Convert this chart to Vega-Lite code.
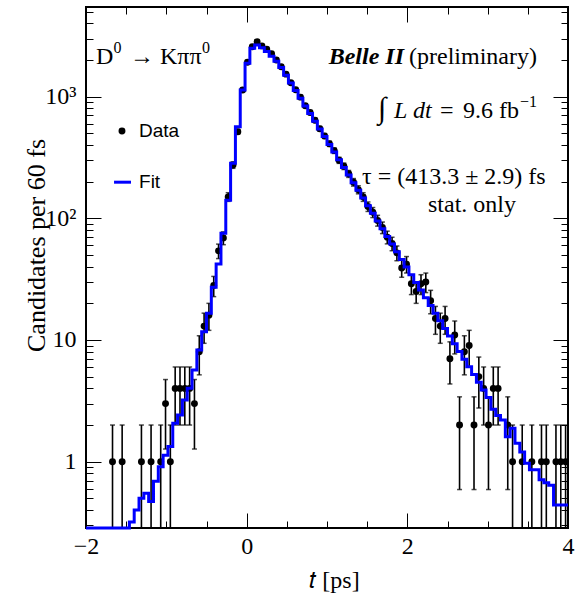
{
  "$schema": "https://vega.github.io/schema/vega-lite/v6.json",
  "width": 482,
  "height": 521,
  "autosize": {"type": "none"},
  "padding": {"left": 86, "top": 7, "right": 9, "bottom": 67},
  "background": "white",
  "config": {
    "view": {"stroke": "black", "strokeWidth": 2},
    "axis": {
      "domain": false, "grid": false, "tickColor": "black", "tickWidth": 1, "labelFlush": false,
      "labelFont": "Liberation Serif", "labelFontSize": 24, "labelColor": "black",
      "titleFont": "Liberation Serif", "titleFontSize": 24, "titleFontWeight": "normal", "titleColor": "black"
    },
    "text": {"font": "Liberation Serif", "fontSize": 24, "color": "black"}
  },
  "datasets": {
    "counts": [
      {"t": -1.67, "n": 1, "lo": 0, "hi": 2},
      {"t": -1.55, "n": 1, "lo": 0, "hi": 2},
      {"t": -1.31, "n": 1, "lo": 0, "hi": 2},
      {"t": -1.19, "n": 1, "lo": 0, "hi": 2},
      {"t": -1.07, "n": 1, "lo": 0, "hi": 2},
      {"t": -1.01, "n": 3, "lo": 1.27, "hi": 4.73},
      {"t": -0.95, "n": 1, "lo": 0, "hi": 2},
      {"t": -0.89, "n": 4, "lo": 2, "hi": 6},
      {"t": -0.83, "n": 4, "lo": 2, "hi": 6},
      {"t": -0.77, "n": 4, "lo": 2, "hi": 6},
      {"t": -0.71, "n": 4, "lo": 2, "hi": 6},
      {"t": -0.65, "n": 3, "lo": 1.27, "hi": 4.73},
      {"t": -0.59, "n": 8, "lo": 5.17, "hi": 10.83},
      {"t": -0.53, "n": 13, "lo": 9.39, "hi": 16.61},
      {"t": -0.47, "n": 16, "lo": 12, "hi": 20},
      {"t": -0.41, "n": 28, "lo": 22.71, "hi": 33.29},
      {"t": -0.35, "n": 54, "lo": 46.65, "hi": 61.35},
      {"t": -0.29, "n": 69, "lo": 60.69, "hi": 77.31},
      {"t": -0.23, "n": 150, "lo": 137.75, "hi": 162.25},
      {"t": -0.17, "n": 274, "lo": 257.45, "hi": 290.55},
      {"t": -0.11, "n": 515, "lo": 492.31, "hi": 537.69},
      {"t": -0.05, "n": 1133, "lo": 1099.34, "hi": 1166.66},
      {"t": 0.01, "n": 1914, "lo": 1870.25, "hi": 1957.75},
      {"t": 0.07, "n": 2570, "lo": 2519.3, "hi": 2620.7},
      {"t": 0.13, "n": 2826, "lo": 2772.84, "hi": 2879.16},
      {"t": 0.19, "n": 2610, "lo": 2558.91, "hi": 2661.09},
      {"t": 0.25, "n": 2448, "lo": 2398.52, "hi": 2497.48},
      {"t": 0.31, "n": 2250, "lo": 2202.57, "hi": 2297.43},
      {"t": 0.37, "n": 2000, "lo": 1955.28, "hi": 2044.72},
      {"t": 0.43, "n": 1760, "lo": 1718.05, "hi": 1801.95},
      {"t": 0.49, "n": 1530, "lo": 1490.89, "hi": 1569.11},
      {"t": 0.55, "n": 1300, "lo": 1263.94, "hi": 1336.06},
      {"t": 0.61, "n": 1140, "lo": 1106.24, "hi": 1173.76},
      {"t": 0.67, "n": 990, "lo": 958.54, "hi": 1021.46},
      {"t": 0.73, "n": 840, "lo": 811.02, "hi": 868.98},
      {"t": 0.79, "n": 740, "lo": 712.8, "hi": 767.2},
      {"t": 0.85, "n": 640, "lo": 614.7, "hi": 665.3},
      {"t": 0.91, "n": 545, "lo": 521.65, "hi": 568.35},
      {"t": 0.97, "n": 475, "lo": 453.21, "hi": 496.79},
      {"t": 1.03, "n": 410, "lo": 389.75, "hi": 430.25},
      {"t": 1.09, "n": 360, "lo": 341.03, "hi": 378.97},
      {"t": 1.15, "n": 300, "lo": 282.68, "hi": 317.32},
      {"t": 1.21, "n": 268, "lo": 251.63, "hi": 284.37},
      {"t": 1.27, "n": 232, "lo": 216.77, "hi": 247.23},
      {"t": 1.33, "n": 198, "lo": 183.93, "hi": 212.07},
      {"t": 1.39, "n": 172, "lo": 158.89, "hi": 185.11},
      {"t": 1.45, "n": 150, "lo": 137.75, "hi": 162.25},
      {"t": 1.51, "n": 125, "lo": 113.82, "hi": 136.18},
      {"t": 1.57, "n": 112, "lo": 101.42, "hi": 122.58},
      {"t": 1.63, "n": 96, "lo": 86.2, "hi": 105.8},
      {"t": 1.69, "n": 84, "lo": 74.84, "hi": 93.17},
      {"t": 1.75, "n": 70, "lo": 61.63, "hi": 78.37},
      {"t": 1.81, "n": 62, "lo": 54.13, "hi": 69.87},
      {"t": 1.87, "n": 52, "lo": 44.79, "hi": 59.21},
      {"t": 1.93, "n": 39, "lo": 32.76, "hi": 45.24},
      {"t": 1.99, "n": 42, "lo": 35.52, "hi": 48.48},
      {"t": 2.05, "n": 29, "lo": 23.61, "hi": 34.39},
      {"t": 2.11, "n": 25, "lo": 20, "hi": 30},
      {"t": 2.17, "n": 29, "lo": 23.61, "hi": 34.39},
      {"t": 2.23, "n": 30, "lo": 24.52, "hi": 35.48},
      {"t": 2.29, "n": 21, "lo": 16.42, "hi": 25.58},
      {"t": 2.35, "n": 15, "lo": 11.13, "hi": 18.87},
      {"t": 2.41, "n": 13, "lo": 9.39, "hi": 16.61},
      {"t": 2.47, "n": 15, "lo": 11.13, "hi": 18.87},
      {"t": 2.53, "n": 7, "lo": 4.35, "hi": 9.65},
      {"t": 2.59, "n": 11, "lo": 7.68, "hi": 14.32},
      {"t": 2.65, "n": 2, "lo": 0.59, "hi": 3.41},
      {"t": 2.71, "n": 8, "lo": 5.17, "hi": 10.83},
      {"t": 2.77, "n": 9, "lo": 6, "hi": 12},
      {"t": 2.83, "n": 2, "lo": 0.59, "hi": 3.41},
      {"t": 2.89, "n": 5, "lo": 2.76, "hi": 7.24},
      {"t": 2.95, "n": 4, "lo": 2, "hi": 6},
      {"t": 3.01, "n": 2, "lo": 0.59, "hi": 3.41},
      {"t": 3.07, "n": 4, "lo": 2, "hi": 6},
      {"t": 3.13, "n": 4, "lo": 2, "hi": 6},
      {"t": 3.25, "n": 2, "lo": 0.59, "hi": 3.41},
      {"t": 3.31, "n": 1, "lo": 0, "hi": 2},
      {"t": 3.43, "n": 1, "lo": 0, "hi": 2},
      {"t": 3.55, "n": 1, "lo": 0, "hi": 2},
      {"t": 3.67, "n": 1, "lo": 0, "hi": 2},
      {"t": 3.73, "n": 1, "lo": 0, "hi": 2},
      {"t": 3.85, "n": 1, "lo": 0, "hi": 2},
      {"t": 3.91, "n": 1, "lo": 0, "hi": 2},
      {"t": 3.97, "n": 1, "lo": 0, "hi": 2}
    ],
    "fit": [
      {"e": -2.0, "f": 0.045}, {"e": -1.94, "f": 0.055}, {"e": -1.88, "f": 0.065}, {"e": -1.82, "f": 0.08},
      {"e": -1.76, "f": 0.1}, {"e": -1.7, "f": 0.12}, {"e": -1.64, "f": 0.15}, {"e": -1.58, "f": 0.19},
      {"e": -1.52, "f": 0.24}, {"e": -1.46, "f": 0.32}, {"e": -1.4, "f": 0.4}, {"e": -1.34, "f": 0.5},
      {"e": -1.28, "f": 0.55}, {"e": -1.22, "f": 0.47}, {"e": -1.16, "f": 0.69}, {"e": -1.1, "f": 0.91},
      {"e": -1.04, "f": 1.13}, {"e": -0.98, "f": 1.33}, {"e": -0.92, "f": 2.07}, {"e": -0.86, "f": 2.42},
      {"e": -0.8, "f": 3.21}, {"e": -0.74, "f": 4.01}, {"e": -0.68, "f": 5.67}, {"e": -0.62, "f": 8.28},
      {"e": -0.56, "f": 11.7}, {"e": -0.5, "f": 16.6}, {"e": -0.44, "f": 27.1}, {"e": -0.38, "f": 42.1},
      {"e": -0.32, "f": 75.3}, {"e": -0.26, "f": 141}, {"e": -0.2, "f": 283}, {"e": -0.14, "f": 566},
      {"e": -0.08, "f": 1133}, {"e": -0.02, "f": 1880}, {"e": 0.04, "f": 2500}, {"e": 0.1, "f": 2650},
      {"e": 0.16, "f": 2520}, {"e": 0.22, "f": 2350}, {"e": 0.28, "f": 2150}, {"e": 0.34, "f": 1950},
      {"e": 0.4, "f": 1731}, {"e": 0.46, "f": 1497}, {"e": 0.52, "f": 1295}, {"e": 0.58, "f": 1120},
      {"e": 0.64, "f": 969}, {"e": 0.7, "f": 838}, {"e": 0.76, "f": 725}, {"e": 0.82, "f": 627},
      {"e": 0.88, "f": 542}, {"e": 0.94, "f": 469}, {"e": 1.0, "f": 405}, {"e": 1.06, "f": 351},
      {"e": 1.12, "f": 303}, {"e": 1.18, "f": 262}, {"e": 1.24, "f": 227}, {"e": 1.3, "f": 196},
      {"e": 1.36, "f": 170}, {"e": 1.42, "f": 147}, {"e": 1.48, "f": 127}, {"e": 1.54, "f": 110},
      {"e": 1.6, "f": 94.9}, {"e": 1.66, "f": 82.1}, {"e": 1.72, "f": 71.0}, {"e": 1.78, "f": 61.4},
      {"e": 1.84, "f": 53.1}, {"e": 1.9, "f": 45.9}, {"e": 1.96, "f": 39.7}, {"e": 2.02, "f": 34.4},
      {"e": 2.08, "f": 29.7}, {"e": 2.14, "f": 25.7}, {"e": 2.2, "f": 22.2}, {"e": 2.26, "f": 19.2},
      {"e": 2.32, "f": 16.6}, {"e": 2.38, "f": 14.4}, {"e": 2.44, "f": 12.4}, {"e": 2.5, "f": 10.8},
      {"e": 2.56, "f": 9.3}, {"e": 2.62, "f": 8.04}, {"e": 2.68, "f": 6.96}, {"e": 2.74, "f": 6.02},
      {"e": 2.8, "f": 5.2}, {"e": 2.86, "f": 4.5}, {"e": 2.92, "f": 3.89}, {"e": 2.98, "f": 3.37},
      {"e": 3.04, "f": 2.7}, {"e": 3.1, "f": 2.4}, {"e": 3.16, "f": 2.2}, {"e": 3.22, "f": 1.6},
      {"e": 3.28, "f": 1.88}, {"e": 3.34, "f": 1.42}, {"e": 3.4, "f": 1.2}, {"e": 3.46, "f": 0.97},
      {"e": 3.52, "f": 0.86}, {"e": 3.58, "f": 0.86}, {"e": 3.64, "f": 0.71}, {"e": 3.7, "f": 0.67},
      {"e": 3.76, "f": 0.64}, {"e": 3.82, "f": 0.44}, {"e": 3.88, "f": 0.44}, {"e": 3.94, "f": 0.44},
      {"e": 4.0, "f": 0.44}
    ],
    "one": [{}]
  },
  "layer": [
    {
      "data": {"name": "counts"},
      "mark": {"type": "rule", "color": "black", "strokeWidth": 1.6, "clip": true, "invalid": "show"},
      "encoding": {
        "x": {
          "field": "t", "type": "quantitative",
          "scale": {"domain": [-2, 4], "nice": false, "zero": false},
          "axis": {"orient": "bottom", "values": [-2, 0, 2, 4], "tickSize": -15, "labelPadding": 21,
                   "title": "𝑡 [ps]", "titleX": 248, "titleY": 52, "titleBaseline": "middle"}
        },
        "y": {
          "field": "lo", "type": "quantitative",
          "scale": {"type": "log", "domain": [0.285, 5450], "nice": false, "clamp": true},
          "axis": {"orient": "left", "values": [1, 10, 100, 1000], "tickSize": -15, "labelPadding": 25,
                   "labelExpr": "datum.value == 1 ? '1' : datum.value == 10 ? '10' : datum.value == 100 ? '10²' : '10³'",
                   "title": "Candidates per 60 fs", "titleFontSize": 26, "titleX": -50, "titleY": 238, "titleBaseline": "middle"}
        },
        "y2": {"field": "hi"}
      }
    },
    {
      "data": {"name": "counts"},
      "mark": {"type": "tick", "orient": "horizontal", "color": "black", "size": 5, "thickness": 1.5},
      "encoding": {
        "x": {"field": "t", "type": "quantitative",
              "axis": {"orient": "bottom", "values": [-1.5, -1, -0.5, 0.5, 1, 1.5, 2.5, 3, 3.5], "tickSize": -7, "labels": false, "title": null}},
        "y": {"field": "hi", "type": "quantitative",
              "axis": {"orient": "left", "values": [0.3, 0.4, 0.5, 0.6, 0.7, 0.8, 0.9, 2, 3, 4, 5, 6, 7, 8, 9, 20, 30, 40, 50, 60, 70, 80, 90, 200, 300, 400, 500, 600, 700, 800, 900, 2000, 3000, 4000, 5000],
                       "tickSize": -7, "labels": false, "title": null}}
      }
    },
    {
      "data": {"name": "counts"},
      "transform": [{"filter": "datum.lo > 0"}],
      "mark": {"type": "tick", "orient": "horizontal", "color": "black", "size": 5, "thickness": 1.5},
      "encoding": {
        "x": {"field": "t", "type": "quantitative", "axis": null},
        "y": {"field": "lo", "type": "quantitative", "axis": null}
      }
    },
    {
      "data": {"name": "counts"},
      "mark": {"type": "circle", "color": "black", "size": 48, "opacity": 1},
      "encoding": {
        "x": {"field": "t", "type": "quantitative",
              "axis": {"orient": "top", "values": [-2, 0, 2, 4], "tickSize": -15, "labels": false, "title": null}},
        "y": {"field": "n", "type": "quantitative",
              "axis": {"orient": "right", "values": [1, 10, 100, 1000], "tickSize": -15, "labels": false, "title": null}}
      }
    },
    {
      "data": {"name": "fit"},
      "mark": {"type": "line", "interpolate": "step-after", "color": "#0000ff", "strokeWidth": 3},
      "encoding": {
        "x": {"field": "e", "type": "quantitative",
              "axis": {"orient": "top", "values": [-1.5, -1, -0.5, 0.5, 1, 1.5, 2.5, 3, 3.5], "tickSize": -7, "labels": false, "title": null}},
        "y": {"field": "f", "type": "quantitative",
              "axis": {"orient": "right", "values": [0.3, 0.4, 0.5, 0.6, 0.7, 0.8, 0.9, 2, 3, 4, 5, 6, 7, 8, 9, 20, 30, 40, 50, 60, 70, 80, 90, 200, 300, 400, 500, 600, 700, 800, 900, 2000, 3000, 4000, 5000],
                       "tickSize": -7, "labels": false, "title": null}}
      }
    },
    {
      "data": {"name": "one"},
      "mark": {"type": "text", "align": "left", "baseline": "alphabetic", "text": "D"},
      "encoding": {"x": {"datum": -1.876, "type": "quantitative", "axis": null}, "y": {"datum": 1853, "type": "quantitative", "axis": null}}
    },
    {
      "data": {"name": "one"},
      "mark": {"type": "text", "align": "left", "baseline": "alphabetic", "text": "0", "fontSize": 16, "dy": -11},
      "encoding": {"x": {"datum": -1.658, "type": "quantitative", "axis": null}, "y": {"datum": 1853, "type": "quantitative", "axis": null}}
    },
    {
      "data": {"name": "one"},
      "mark": {"type": "text", "align": "left", "baseline": "alphabetic", "text": "→"},
      "encoding": {"x": {"datum": -1.452, "type": "quantitative", "axis": null}, "y": {"datum": 1853, "type": "quantitative", "axis": null}}
    },
    {
      "data": {"name": "one"},
      "mark": {"type": "text", "align": "left", "baseline": "alphabetic", "text": "Kππ"},
      "encoding": {"x": {"datum": -1.079, "type": "quantitative", "axis": null}, "y": {"datum": 1853, "type": "quantitative", "axis": null}}
    },
    {
      "data": {"name": "one"},
      "mark": {"type": "text", "align": "left", "baseline": "alphabetic", "text": "0", "fontSize": 16, "dy": -11},
      "encoding": {"x": {"datum": -0.556, "type": "quantitative", "axis": null}, "y": {"datum": 1853, "type": "quantitative", "axis": null}}
    },
    {
      "data": {"name": "one"},
      "mark": {"type": "text", "align": "right", "baseline": "alphabetic", "text": "Belle II", "fontWeight": "bold", "fontStyle": "italic"},
      "encoding": {"x": {"datum": 1.959, "type": "quantitative", "axis": null}, "y": {"datum": 1853, "type": "quantitative", "axis": null}}
    },
    {
      "data": {"name": "one"},
      "mark": {"type": "text", "align": "right", "baseline": "alphabetic", "text": "(preliminary)"},
      "encoding": {"x": {"datum": 3.614, "type": "quantitative", "axis": null}, "y": {"datum": 1853, "type": "quantitative", "axis": null}}
    },
    {
      "data": {"name": "one"},
      "mark": {"type": "text", "align": "left", "baseline": "alphabetic", "text": "∫", "fontSize": 30},
      "encoding": {"x": {"datum": 1.635, "type": "quantitative", "axis": null}, "y": {"datum": 667, "type": "quantitative", "axis": null}}
    },
    {
      "data": {"name": "one"},
      "mark": {"type": "text", "align": "left", "baseline": "alphabetic", "text": "L dt", "fontStyle": "italic"},
      "encoding": {"x": {"datum": 1.834, "type": "quantitative", "axis": null}, "y": {"datum": 667, "type": "quantitative", "axis": null}}
    },
    {
      "data": {"name": "one"},
      "mark": {"type": "text", "align": "left", "baseline": "alphabetic", "text": "="},
      "encoding": {"x": {"datum": 2.407, "type": "quantitative", "axis": null}, "y": {"datum": 667, "type": "quantitative", "axis": null}}
    },
    {
      "data": {"name": "one"},
      "mark": {"type": "text", "align": "right", "baseline": "alphabetic", "text": "9.6 fb"},
      "encoding": {"x": {"datum": 3.39, "type": "quantitative", "axis": null}, "y": {"datum": 667, "type": "quantitative", "axis": null}}
    },
    {
      "data": {"name": "one"},
      "mark": {"type": "text", "align": "left", "baseline": "alphabetic", "text": "−1", "fontSize": 16, "dy": -11},
      "encoding": {"x": {"datum": 3.403, "type": "quantitative", "axis": null}, "y": {"datum": 667, "type": "quantitative", "axis": null}}
    },
    {
      "data": {"name": "one"},
      "mark": {"type": "text", "align": "left", "baseline": "alphabetic", "text": "τ = (413.3 ± 2.9) fs"},
      "encoding": {"x": {"datum": 1.436, "type": "quantitative", "axis": null}, "y": {"datum": 191, "type": "quantitative", "axis": null}}
    },
    {
      "data": {"name": "one"},
      "mark": {"type": "text", "align": "left", "baseline": "alphabetic", "text": "stat. only"},
      "encoding": {"x": {"datum": 2.257, "type": "quantitative", "axis": null}, "y": {"datum": 112.7, "type": "quantitative", "axis": null}}
    },
    {
      "data": {"name": "one"},
      "mark": {"type": "circle", "color": "black", "size": 48, "opacity": 1},
      "encoding": {"x": {"datum": -1.552, "type": "quantitative", "axis": null}, "y": {"datum": 521, "type": "quantitative", "axis": null}}
    },
    {
      "data": {"name": "one"},
      "mark": {"type": "text", "align": "left", "baseline": "middle", "text": "Data", "font": "Liberation Sans", "fontSize": 19},
      "encoding": {"x": {"datum": -1.34, "type": "quantitative", "axis": null}, "y": {"datum": 521, "type": "quantitative", "axis": null}}
    },
    {
      "data": {"name": "one"},
      "mark": {"type": "rule", "color": "#0000ff", "strokeWidth": 3},
      "encoding": {
        "x": {"datum": -1.651, "type": "quantitative", "axis": null},
        "x2": {"datum": -1.44},
        "y": {"datum": 198, "type": "quantitative", "axis": null}
      }
    },
    {
      "data": {"name": "one"},
      "mark": {"type": "text", "align": "left", "baseline": "middle", "text": "Fit", "font": "Liberation Sans", "fontSize": 19},
      "encoding": {"x": {"datum": -1.34, "type": "quantitative", "axis": null}, "y": {"datum": 198, "type": "quantitative", "axis": null}}
    }
  ],
  "resolve": {"axis": {"x": "independent", "y": "independent"}}
}
